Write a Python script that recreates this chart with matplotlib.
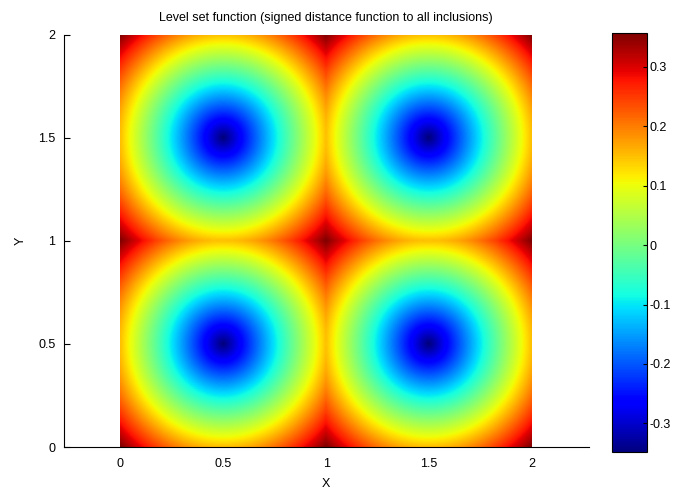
import numpy as np
import matplotlib
matplotlib.use('Agg')
import matplotlib.pyplot as plt

plt.rcParams['font.family'] = ['Liberation Sans', 'DejaVu Sans']

# inclusions: circle centres and radius
cx = [0.5, 1.5, 0.5, 1.5]
cy = [0.5, 0.5, 1.5, 1.5]
radius = 0.35
xticks = [0, 0.5, 1, 1.5, 2]
yticks = [0, 0.5, 1, 1.5, 2]
cticks = [-0.3, -0.2, -0.1, 0, 0.1, 0.2, 0.3]

# signed distance to all inclusions on a grid
n = 400
x = np.linspace(0, 2, n)
y = np.linspace(0, 2, n)
X, Y = np.meshgrid(x, y)
phi = np.full(X.shape, np.inf)
for a, b in zip(cx, cy):
    phi = np.minimum(phi, np.sqrt((X - a)**2 + (Y - b)**2) - radius)

fig = plt.figure(figsize=(6.79, 4.97), dpi=100)
ax = fig.add_axes([0.094, 0.1006, 0.773, 0.829])
im = ax.imshow(phi, cmap='jet', origin='lower', extent=[0, 2, 0, 2],
               interpolation='bilinear', aspect='equal', zorder=0)
ax.set_xlim(-0.275, 2.275)
ax.set_ylim(0, 2)
ax.set_aspect('auto')
ax.spines['top'].set_visible(False)
ax.spines['right'].set_visible(False)
ax.set_xticks(xticks)
ax.set_xticklabels(['0', '0.5', '1', '1.5', '2'])
ax.set_yticks(yticks)
ax.set_yticklabels(['0', '0.5', '1', '1.5', '2'])
ax.tick_params(axis='y', direction='in', length=4, labelsize=9, pad=6)
ax.tick_params(axis='x', length=0, labelsize=9, pad=8)
ax.set_xlabel('X', fontsize=9, labelpad=6)
ax.set_ylabel('Y', fontsize=9, labelpad=8)
ax.set_title('Level set function (signed distance function to all inclusions)',
             fontsize=9, pad=10)

cax = fig.add_axes([0.901, 0.0905, 0.052, 0.843])
cb = fig.colorbar(im, cax=cax, ticks=cticks)
cb.ax.set_yticklabels(['-0.3', '-0.2', '-0.1', '0', '0.1', '0.2', '0.3'])
cb.ax.tick_params(direction='in', length=3, labelsize=9, pad=2)
cb.outline.set_linewidth(0.8)

plt.savefig('out.png', dpi=100)
